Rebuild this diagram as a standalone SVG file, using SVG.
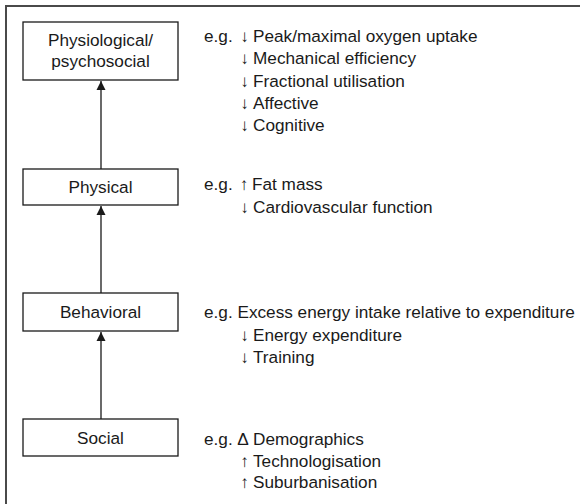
<svg xmlns="http://www.w3.org/2000/svg" width="580" height="504" viewBox="0 0 580 504">
<style>
.frame{fill:none;stroke:#4a4a4a;stroke-width:2}
.box{fill:#fff;stroke:#1a1a1a;stroke-width:1.3}
.t{font-family:"Liberation Sans",Arial,Helvetica,sans-serif;font-size:17.2px;fill:#1a1a1a}
.c{text-anchor:middle}
.conn{fill:none;stroke:#1a1a1a;stroke-width:1.3}
</style>
<defs>
<marker id="ah" viewBox="0 0 10 10" refX="10" refY="5" markerWidth="9" markerHeight="10" orient="auto" markerUnits="userSpaceOnUse">
<path d="M0,0 L10,5 L0,10 z" fill="#1a1a1a"/>
</marker>
</defs>
<rect width="580" height="504" fill="#fff"/>
<path class="frame" d="M6,504 V6 H580"/>

<g id="connectors">
<path class="conn" d="M101,169 V81" marker-end="url(#ah)"/>
<path class="conn" d="M101,293 V206" marker-end="url(#ah)"/>
<path class="conn" d="M101,419 V332" marker-end="url(#ah)"/>
</g>

<g id="physiological">
<rect class="box" x="23" y="22" width="155" height="58"/>
<text class="t c" x="100.5" y="46">Physiological/</text>
<text class="t c" x="100.5" y="67">psychosocial</text>
</g>
<g id="physical">
<rect class="box" x="23" y="169" width="155" height="36"/>
<text class="t c" x="100.5" y="193">Physical</text>
</g>
<g id="behavioral">
<rect class="box" x="23" y="293" width="155" height="38"/>
<text class="t c" x="100.5" y="318">Behavioral</text>
</g>
<g id="social">
<rect class="box" x="23" y="419" width="155" height="37"/>
<text class="t c" x="100.5" y="444">Social</text>
</g>

<g id="examples-physiological">
<text class="t" x="204" y="42">e.g.</text>
<text class="t c" x="244.5" y="42">↓</text>
<text class="t" x="253" y="42">Peak/maximal oxygen uptake</text>
<text class="t c" x="244.5" y="64">↓</text>
<text class="t" x="253" y="64">Mechanical efficiency</text>
<text class="t c" x="244.5" y="87">↓</text>
<text class="t" x="253" y="87">Fractional utilisation</text>
<text class="t c" x="244.5" y="109">↓</text>
<text class="t" x="253" y="109">Affective</text>
<text class="t c" x="244.5" y="131">↓</text>
<text class="t" x="253" y="131">Cognitive</text>
</g>
<g id="examples-physical">
<text class="t" x="204" y="190">e.g.</text>
<text class="t c" x="244" y="190">↑</text>
<text class="t" x="252" y="190">Fat mass</text>
<text class="t c" x="244.5" y="213">↓</text>
<text class="t" x="253" y="213">Cardiovascular function</text>
</g>
<g id="examples-behavioral">
<text class="t" x="204" y="318">e.g. Excess energy intake relative to expenditure</text>
<text class="t c" x="244.5" y="341">↓</text>
<text class="t" x="253" y="341">Energy expenditure</text>
<text class="t c" x="244.5" y="363">↓</text>
<text class="t" x="253" y="363">Training</text>
</g>
<g id="examples-social">
<text class="t" x="204" y="445">e.g.</text>
<text class="t c" x="243" y="445">Δ</text>
<text class="t" x="253" y="445">Demographics</text>
<text class="t c" x="244.5" y="467">↑</text>
<text class="t" x="253" y="467">Technologisation</text>
<text class="t c" x="244.5" y="488">↑</text>
<text class="t" x="253" y="488">Suburbanisation</text>
</g>
</svg>
